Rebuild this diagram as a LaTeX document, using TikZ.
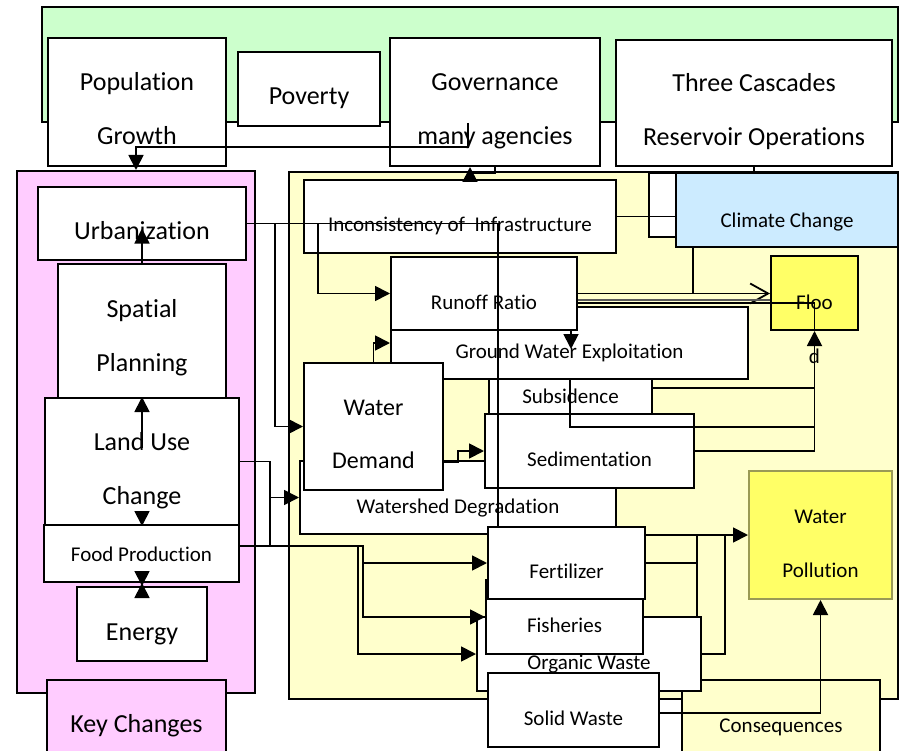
\documentclass[tikz,border=0pt]{standalone}
\usepackage{fontspec}
\setmainfont{Carlito}[Ligatures=NoCommon]
\usepackage{tikz}
\usetikzlibrary{arrows.meta, calc}

\definecolor{drvgreen}{HTML}{CCFFCC}
\definecolor{keypink}{HTML}{FFCCFF}
\definecolor{conyellow}{HTML}{FFFFCC}
\definecolor{climblue}{HTML}{CCEBFF}
\definecolor{hotyellow}{HTML}{FFFF66}
\definecolor{polledge}{HTML}{9A9A55}

\newcommand{\twotext}[2]{\begin{tabular}[t]{@{}c@{}}#1\\#2\end{tabular}}

\begin{document}
\begin{tikzpicture}[x=1pt, y=-1pt]
        \tikzstyle{region} = [rectangle, draw=black, line width=2pt, inner sep=0pt]
        \tikzstyle{box} = [rectangle, draw=black, line width=2pt, fill=white, inner sep=0pt]
        \tikzstyle{big} = [font=\fontsize{26}{54}\selectfont]
        \tikzstyle{med} = [font=\fontsize{21}{54}\selectfont]
        \tikzstyle{low} = [text height=32pt, text depth=0pt]
        \tikzstyle{lowm} = [text height=31pt, text depth=0pt]
        \tikzstyle{pair} = [text height=0pt, text depth=22pt]
        \tikzstyle{arrow} = [line width=1.8pt, -{Triangle[length=15pt,width=15pt]}]
        \tikzstyle{openarrow} = [line width=1.8pt, -{Straight Barb[length=18pt,width=20pt]}]
        \tikzstyle{link} = [line width=1.8pt]

        \useasboundingbox (0,0) rectangle (901,751);

        \node [region, fill=drvgreen, minimum width=856pt, minimum height=115pt] (drivers) at (470,64.5) {};
        \node [region, fill=keypink, minimum width=238pt, minimum height=522pt] (kcarea) at (136,432) {};
        \node [region, fill=conyellow, minimum width=609pt, minimum height=527pt] (csarea) at (593.5,435.5) {};

        \node [box, big, pair, minimum width=178pt, minimum height=128pt] (pop) at (137,102) {\twotext{Population}{Growth}};
        \node [box, big, low, minimum width=142pt, minimum height=74pt] (pov) at (309,89) {Poverty};
        \node [box, big, pair, minimum width=210pt, minimum height=128pt] (gov) at (495,102) {\twotext{Governance}{many agencies}};
        \node [box, big, pair, minimum width=276pt, minimum height=126pt] (tc) at (754,103) {\twotext{Three Cascades}{Reservoir Operations}};

        \node [box, big, low, minimum width=208pt, minimum height=73pt] (urb) at (142,223.5) {Urbanization};
        \node [box, big, text height=0pt, text depth=28pt, minimum width=168pt, minimum height=134pt] (spat) at (142,331) {\twotext{Spatial}{Planning}};
        \node [box, big, text height=0pt, text depth=23pt, minimum width=194pt, minimum height=127pt] (lu) at (142,461.5) {\twotext{Land Use}{Change}};
        \node [box, med, text height=16pt, text depth=0pt, minimum width=195pt, minimum height=57pt] (food) at (141.5,553.5) {Food Production};
        \node [box, big, low, minimum width=130pt, minimum height=74pt] (en) at (142,624) {Energy};
        \node [region, fill=keypink, big, text height=14pt, text depth=0pt, minimum width=179pt, minimum height=90pt] (kc) at (136.5,725) {Key Changes};

        \draw [line width=2pt, fill=white] (649,173) rectangle (700,237);
        \node [box, med, lowm, minimum width=312pt, minimum height=73pt] (inc) at (460,216.5) {Inconsistency of~ Infrastructure};
        \node [box, fill=climblue, med, text height=34pt, text depth=0pt, minimum width=222pt, minimum height=74pt] (cc) at (787,210) {Climate Change};
        \node [box, fill=hotyellow, med, text height=32pt, text depth=0pt, minimum width=87pt, minimum height=74pt] (flood) at (814.5,293) {\twotext{Floo}{d}};
        \node [box, draw=polledge, fill=hotyellow, med, text height=0pt, text depth=24pt, minimum width=143pt, minimum height=128pt] (poll) at (820.5,535) {\twotext{Water}{Pollution}};
        \node [region, fill=conyellow, med, text height=14pt, text depth=0pt, minimum width=198pt, minimum height=90pt] (cons) at (781,725) {Consequences};

        \node [box, med, lowm, minimum width=163pt, minimum height=66pt] (subs) at (570.5,388) {Subsidence};
        \node [box, med, lowm, minimum width=357pt, minimum height=72pt] (gw) at (569.5,343) {Ground Water Exploitation};
        \node [box, med, lowm, minimum width=186pt, minimum height=73pt] (runoff) at (484,293.5) {Runoff Ratio};
        \node [box, med, lowm, minimum width=316pt, minimum height=73pt] (ws) at (458,497.5) {Watershed Degradation};
        \node [box, med, lowm, minimum width=209pt, minimum height=74pt] (sed) at (589.5,451) {Sedimentation};
        \node [box, font=\fontsize{24}{53}\selectfont, text height=0pt, text depth=23pt, minimum width=139pt, minimum height=127pt] (wd) at (373.5,426.5) {\twotext{Water}{Demand}};
        \node [box, med, lowm, minimum width=224pt, minimum height=74pt] (org) at (589,654) {Organic Waste};
        \node [box, med, lowm, minimum width=157pt, minimum height=74pt] (fish) at (564.5,617) {Fisheries};
        \node [box, med, lowm, minimum width=157pt, minimum height=72pt] (fert) at (566.5,563) {Fertilizer};
        \node [box, med, lowm, minimum width=171pt, minimum height=74pt] (solid) at (573.5,710) {Solid Waste};

        \draw [arrow] ($(drivers.south)+(-2,0)$) |- (136,147) -- (kcarea.north);
        \draw [arrow] (gov.south) -- ++(0,6) -| ($(gov.south)+(-25,0)$);
        \draw [link] (tc.south) -- (tc.south |- cc.north);
        \draw [link] (inc.east) -- (inc.east -| cc.west);

        \draw [link] (urb.east) -- (498,223.5) -- (fert.north -| 498,0);
        \draw [arrow] (urb.east) -| (318,293.5) -- (runoff.west);
        \draw [arrow] (urb.east) -| (275,426.5) -- (wd.west);
        \draw [arrow] (spat.north) -- ($(urb.center)+(0,5)$);
        \draw [arrow] ($(lu.center)+(0,-14)$) -- (lu.north);
        \draw [arrow] ($(lu.south)+(0,-14)$) -- (lu.south);
        \draw [arrow] (food.south -| en.north) -- (en.north);
        \draw [arrow] (en.north) -- (food.south -| en.north);

        \draw [arrow] (lu.east) -| (270,497.5) -- (ws.west);
        \draw [link] (270,497.5) -- (270,546);
        \draw [arrow] ($(food.east)+(0,-7.5)$) -| (363,563) -- (fert.west);
        \draw [arrow] (363,563) |- (fish.west);
        \draw [arrow] ($(food.east)+(0,-7.5)$) -| (358,654) -- (org.west);

        \draw [arrow] (wd.north) |- (gw.west);
        \draw [arrow] ($(wd.east)+(0,35.5)$) -| (458,451) -- (sed.west);
        \draw [arrow] (runoff.south -| 571,0) -- (571,349);
        \draw [openarrow] (runoff.east) -- (runoff.east -| flood.west);
        \draw [link, draw=black!65] ($(runoff.east)+(0,6.5)$) -- (flood.west |- 0,300);
        \draw [link] ($(runoff.east)+(0,9.5)$) -| (flood.south);
        \draw [link] (cc.south -| 693,0) -- (693,293.5);

        \draw [link] (gw.south -| 570,0) |- (flood.south |- 0,427);
        \draw [link] (subs.east) -- (subs.east -| flood.south);
        \draw [arrow] (sed.east) -| (flood.south);

        \draw [arrow] (fert.east |- poll.west) -- (poll.west);
        \draw [link] (fert.east) -| (697,535);
        \draw [link] (fish.east) -| (697,535);
        \draw [link] (org.east) -| (725,535);
        \draw [arrow] ($(solid.east)+(0,3)$) -| (poll.south);
\end{tikzpicture}
\end{document}
